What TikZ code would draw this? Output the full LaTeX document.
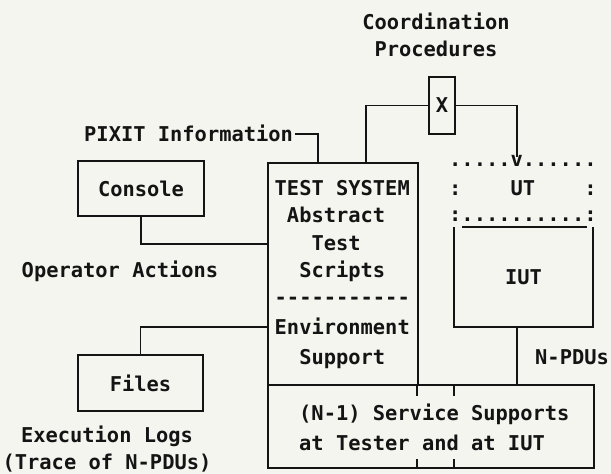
\documentclass[tikz,border=0pt]{standalone}
\usepackage{fontspec}
\usepackage{tikz}
\usetikzlibrary{positioning,calc}
\newfontfamily\maquina{DejaVu Sans Mono}
\newcommand{\letra}{\maquina\bfseries\fontsize{20.4}{27.3}\selectfont}
\definecolor{papel}{HTML}{F5F5F0}
\definecolor{tinta}{HTML}{141414}
\tikzset{
  bloque/.style={draw=tinta, line width=1.9pt, inner sep=0pt, text=tinta, font=\letra},
  texto/.style={inner sep=0pt, text=tinta, font=\letra},
  linea/.style={draw=tinta, line width=1.9pt},
}

\begin{document}
\begin{tikzpicture}[x=1pt, y=-1pt]
\fill[papel] (0,0) rectangle (611,474);
\useasboundingbox (0,0) rectangle (611,474);
% boxes
\node[bloque, minimum width=126, minimum height=55] (console) at (141,188.5) {Console};
\node[bloque, minimum width=125, minimum height=56] (files) at (140.5,383) {Files};
\node[bloque, minimum width=26, minimum height=57] (xbox) at (442,105.5) {X};
\node[bloque, anchor=north west, minimum width=150, minimum height=222] (tsys) at (267,162) {};
\node[bloque, anchor=north west, minimum width=326, minimum height=83] (nsup) at (267,384) {};
\node[texto, minimum width=139, minimum height=100] (iut) at (523.5,277) {IUT};
\draw[linea] (iut.north west) |- (iut.south east) -- (iut.north east);
\draw[linea] ([xshift=8]iut.north west) -- ([xshift=-6]iut.north east);
% texts (base = last line)
\node[texto, anchor=base, align=center] (coord) at (436,56.5) {Coordination\\Procedures};
\node[texto, anchor=base west] (pixit) at (84,141) {PIXIT Information};
\node[texto, anchor=base] (oper) at (120,277.5) {Operator Actions};
\node[texto, anchor=base, align=center, font=\letra\fontsize{20.4}{27}\selectfont] (logs) at (107,469) {Execution Logs\\(Trace of N-PDUs)};
\node[texto, anchor=base west, align=left] (tsname) at (274.5,277.5) {TEST SYSTEM\\\phantom{x}Abstract\\\phantom{xxx}Test\\\phantom{xx}Scripts};
\node[texto, anchor=base west] (tsdash) at (274.5,304) {-{}-{}-{}-{}-{}-{}-{}-{}-{}-{}-};
\node[texto, anchor=base west, align=left, font=\letra\fontsize{20.4}{30}\selectfont] (tsenv) at (274.5,364.5) {Environment\\\phantom{xx}Support};
\node[texto, anchor=base west, align=left, font=\letra\fontsize{20.4}{30}\selectfont] (nstxt) at (299,450.5) {(N-1) Service Supports\\at Tester and at IUT};
\node[texto, anchor=base west] (npdu) at (535,364.5) {N-PDUs};
\node[texto, anchor=base west] (utA) at (449,166.5) {.....v......};
\node[texto, anchor=base west] (utB) at (449,195.5) {:\phantom{xxxx}UT\phantom{xxxx}:};
\node[texto, anchor=base west] (utC) at (449,221.5) {:..........:};
\coordinate (utv) at (517,157);
% connectors
\draw[linea] (console.south) |- (tsys.west |- 0,244);
\draw[linea] (tsys.west |- 0,327) -| (files.north);
\draw[linea] ([xshift=2]pixit.east |- 0,134) -| (tsys.north -| 318,0);
\draw[linea] (xbox.west) -| (tsys.north -| 366,0);
\draw[linea] (xbox.east) -| (utv);
\draw[linea] (iut.south -| 517,0) -- (nsup.north -| 517,0);
\foreach \x in {417,454} {
  \draw[linea] (nsup.north -| \x,0) -- ++(0,12);
  \draw[linea] (nsup.south -| \x,0) -- ++(0,-10);
}
\end{tikzpicture}
\end{document}
